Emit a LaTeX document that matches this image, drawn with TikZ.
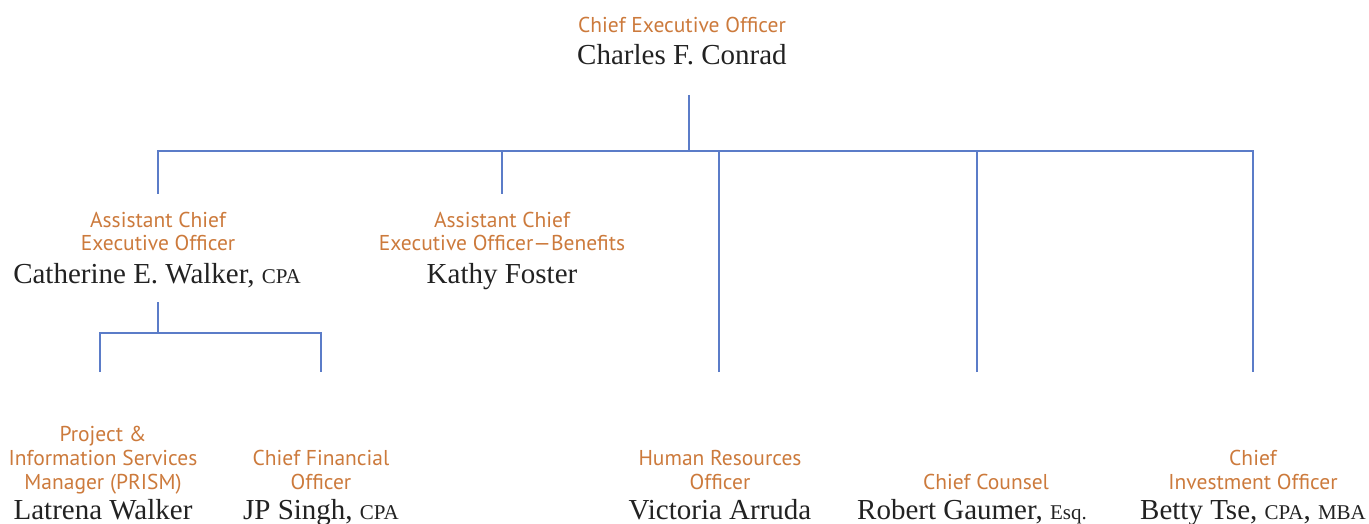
\documentclass[tikz,border=0pt]{standalone}
\usepackage{fontspec}
\setmainfont{Liberation Serif}
\newfontfamily\titlefont{PT Sans}
\definecolor{orgc}{RGB}{204,122,60}
\definecolor{linec}{RGB}{91,124,200}
\definecolor{namec}{RGB}{34,34,34}
\newcommand{\smc}[1]{{\fontsize{21}{21}\selectfont #1}}
\begin{document}
\begin{tikzpicture}[x=1pt,y=-1pt,
  ttl/.style={font=\titlefont\fontsize{21.5}{24}\selectfont, text=orgc, align=center, inner sep=0pt, anchor=base},
  pname/.style={font=\fontsize{29}{30}\selectfont, text=namec, inner sep=0pt, anchor=base},
  conn/.style={draw=linec, line width=2.6pt}]
\useasboundingbox (0,0) rectangle (1369,524);
% titles and names
\node[ttl] (ceoT) at (682,33) {Chief Executive Officer};
\node[pname] (ceoN) at (682,65) {Charles F. Conrad};
\node[ttl] (acT) at (158,251) {Assistant Chief\\Executive Officer};
\node[pname] (acN) at (157,283) {Catherine E. Walker, \smc{CPA}};
\node[ttl] (abT) at (502,251) {Assistant Chief\\Executive Officer—Benefits};
\node[pname] (abN) at (502,283) {Kathy Foster};
\node[ttl] (prT) at (103,489) {Project \&\\Information Services\\Manager (PRISM)};
\node[pname] (prN) at (103,519) {Latrena Walker};
\node[ttl] (cfT) at (321,489) {Chief Financial\\Officer};
\node[pname] (cfN) at (321,519) {JP Singh, \smc{CPA}};
\node[ttl] (hrT) at (720,489) {Human Resources\\Officer};
\node[pname] (hrN) at (720,519) {Victoria Arruda};
\node[ttl] (ccT) at (986,489) {Chief Counsel};
\node[pname] (ccN) at (972,519) {Robert Gaumer, \smc{Esq.}};
\node[ttl] (ciT) at (1253,489) {Chief\\Investment Officer};
\node[pname] (ciN) at (1253,519) {Betty Tse, \smc{CPA}, \smc{MBA}};
% connector points
\coordinate (ceoB) at (689,95);
\coordinate (bar) at (689,151);
\coordinate (acTop) at (158,194);
\coordinate (abTop) at (502,194);
\coordinate (hrTop) at (719,372);
\coordinate (ccTop) at (977,372);
\coordinate (ciTop) at (1253,372);
\coordinate (acB) at (158,302);
\coordinate (sub) at (158,333);
\coordinate (prTop) at (100,372);
\coordinate (cfTop) at (321,372);
\draw[conn] (ceoB) -- (bar);
\draw[conn] (acTop) |- (bar) -| (ciTop);
\draw[conn] (abTop) -- (abTop |- bar);
\draw[conn] (hrTop) -- (hrTop |- bar);
\draw[conn] (ccTop) -- (ccTop |- bar);
\draw[conn] (acB) -- (sub);
\draw[conn] (prTop) |- (sub) -| (cfTop);
\end{tikzpicture}
\end{document}
